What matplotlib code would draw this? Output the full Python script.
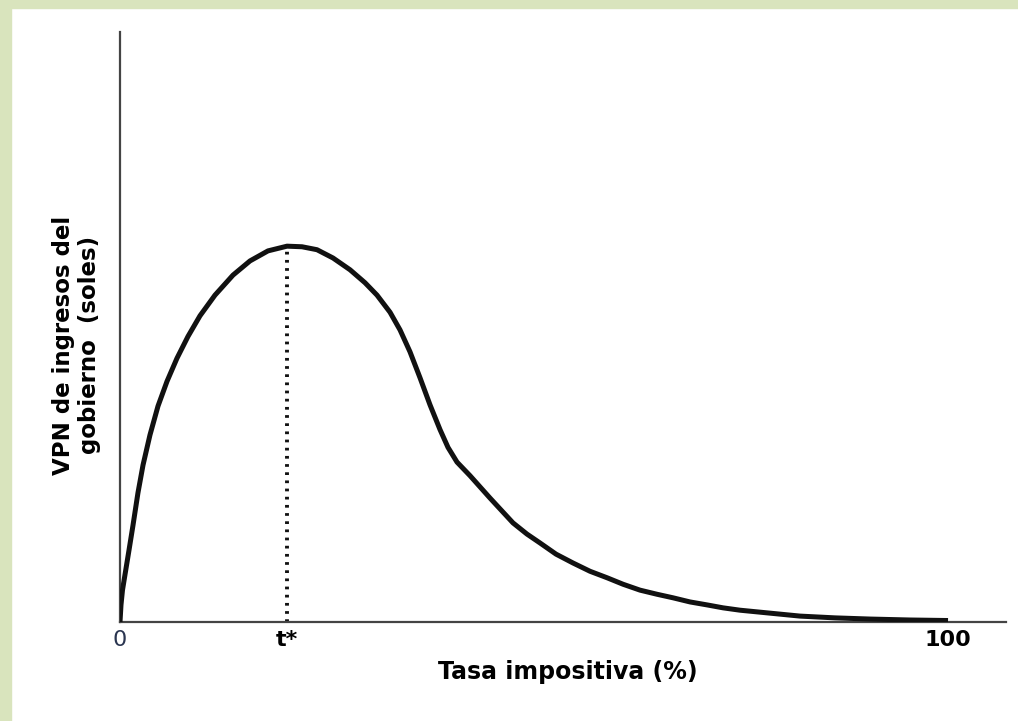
import numpy as np
import matplotlib.pyplot as plt
from matplotlib.patches import Rectangle

# curve (tax rate %, revenue in arbitrary units)
tasa = [0, 0.12, 0.30, 0.60, 1.09, 1.57, 2.17, 2.78, 3.62, 4.59, 5.68, 6.88, 8.21,
        9.66, 11.47, 13.65, 15.70, 17.87, 20.17, 21.98, 23.79, 25.72, 27.78, 29.59,
        31.04, 32.61, 33.82, 35.02, 36.23, 37.44, 38.65, 39.61, 40.70, 42.27, 43.48,
        44.69, 46.14, 47.46, 49.15, 50.72, 52.66, 54.71, 56.76, 58.82, 60.75, 62.80,
        64.86, 66.79, 68.84, 70.89, 72.83, 74.88, 78.50, 82.13, 86.35, 90.58, 95.41, 100]
vpn = [0, 2.9, 5.4, 8.0, 12.2, 16.4, 21.9, 26.6, 31.7, 36.6, 40.8, 44.7, 48.4,
       51.9, 55.4, 58.8, 61.2, 62.9, 63.7, 63.6, 63.1, 61.7, 59.7, 57.5,
       55.4, 52.5, 49.5, 45.8, 41.4, 36.8, 32.6, 29.6, 27.1, 24.8, 22.9,
       21.0, 18.8, 16.8, 14.9, 13.4, 11.5, 10.0, 8.6, 7.5, 6.4, 5.4,
       4.7, 4.1, 3.4, 2.9, 2.4, 2.0, 1.5, 1.0, 0.7, 0.5, 0.34, 0.25]
t_star = 20.17
vpn_max = 63.7
tick_pos = [0, t_star, 100]
tick_lab = ['0', 't*', '100']

fig = plt.figure(figsize=(10.18, 7.21), dpi=100)
fig.patch.set_facecolor('white')
# green frame on left and top
green = '#d9e4bd'
fig.patches.append(Rectangle((0, 0), 11 / 1018, 1, transform=fig.transFigure, color=green, zorder=-1))
fig.patches.append(Rectangle((0, 1 - 8 / 721), 1, 8 / 721, transform=fig.transFigure, color=green, zorder=-1))

ax = fig.add_axes([120 / 1018, 99 / 721, 886 / 1018, 590 / 721])
ax.set_xlim(0, 107)
ax.set_ylim(0, 100)

ax.plot(tasa, vpn, color='#111111', lw=3.6, solid_joinstyle='round', solid_capstyle='butt', zorder=3)
ax.plot([t_star, t_star], [0, vpn_max], color='#111111', lw=2.8,
        linestyle=(0, (0.7, 1.4)), zorder=2)

for s in ['top', 'right']:
    ax.spines[s].set_visible(False)
for s in ['left', 'bottom']:
    ax.spines[s].set_color('#444444')
    ax.spines[s].set_linewidth(1.6)

ax.set_yticks([])
ax.set_xticks(tick_pos)
ax.set_xticklabels(tick_lab, fontsize=16, fontweight='bold')
ax.tick_params(axis='x', length=0, pad=6)
ax.get_xticklabels()[0].set_color('#2a3550')
ax.get_xticklabels()[0].set_fontweight('normal')

ax.set_xlabel('Tasa impositiva (%)', fontsize=17, fontweight='bold')
ax.xaxis.set_label_coords((568 - 120) / 886, -0.065)
ax.set_ylabel('VPN de ingresos del\ngobierno  (soles)', fontsize=16.5, fontweight='bold',
              linespacing=1.15)
ax.yaxis.set_label_coords(-0.022, (622 - 345) / 590)

fig.savefig('out.png', dpi=100, facecolor=fig.get_facecolor())
